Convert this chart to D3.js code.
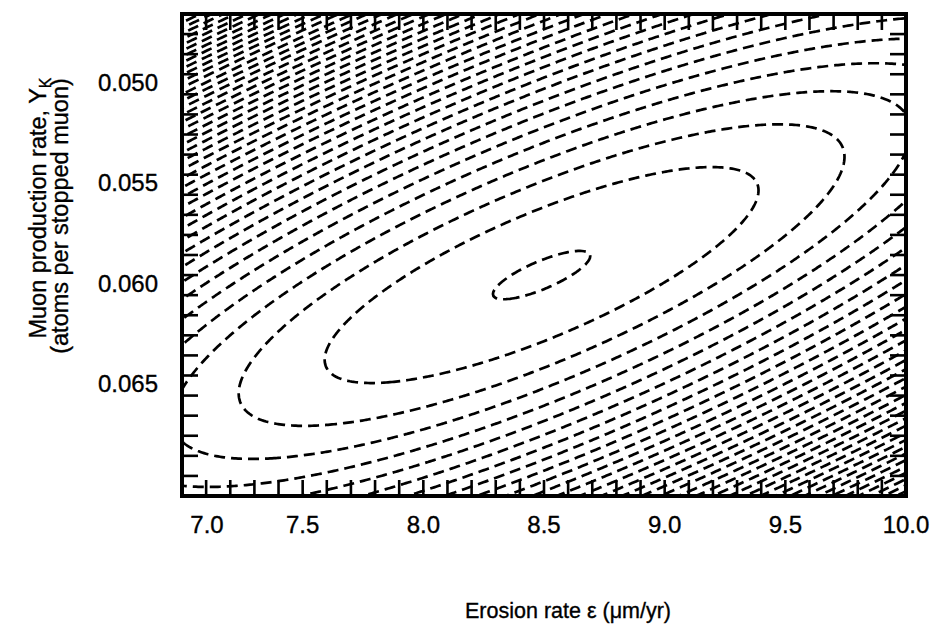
<!DOCTYPE html>
<html>
<head>
<meta charset="utf-8">
<script src="https://cdn.jsdelivr.net/npm/d3@7"></script>
<style>
  body { margin: 0; background: #fff; }
  svg { display: block; }
  text { font-family: "Liberation Sans", Arial, Helvetica, sans-serif; fill: #000; stroke: #000; stroke-width: 0.35px; }
</style>
</head>
<body>
<svg id="chart" width="941" height="632"></svg>
<script>
// Axis ranges and tick labels
const xDomain = [7.0, 10.0];
const yDomain = [0.047, 0.071];
const xLabels = [7.0, 7.5, 8.0, 8.5, 9.0, 9.5, 10.0];
const yLabels = [0.050, 0.055, 0.060, 0.065];

// Misfit surface
const bestErosion = 8.49;
const bestYk = 0.0600;
const sigmaErosion = 0.876;
const sigmaYk = 0.00524;
const rho = -0.784;
const chiMin = 0.947;

// Contour levels (one line per unit of misfit)
const levels = [1, 2, 3, 4, 5, 6, 7, 8, 9, 10, 11, 12, 13, 14, 15, 16, 17, 18, 19, 20,
  21, 22, 23, 24, 25, 26, 27, 28, 29, 30, 31, 32, 33, 34, 35, 36, 37, 38, 39, 40,
  41, 42, 43, 44, 45, 46, 47, 48, 49, 50];

const svg = d3.select("#chart");

const plot = { left: 182, top: 14, right: 906, bottom: 496 };
const x = d3.scaleLinear().domain(xDomain).range([plot.left, plot.right]);
const y = d3.scaleLinear().domain(yDomain).range([plot.top, plot.bottom]);

const misfit = (e, k) => {
  const u = (e - bestErosion) / sigmaErosion;
  const v = (k - bestYk) / sigmaYk;
  return chiMin + (u * u - 2 * rho * u * v + v * v) / (1 - rho * rho);
};

// sample the surface on a grid a bit bigger than the frame, then clip
const cell = 2, pad = 12;
const gx0 = plot.left - pad, gy0 = plot.top - pad;
const nx = Math.ceil((plot.right - plot.left + 2 * pad) / cell) + 1;
const ny = Math.ceil((plot.bottom - plot.top + 2 * pad) / cell) + 1;
const values = new Array(nx * ny);
for (let j = 0; j < ny; j++) {
  for (let i = 0; i < nx; i++) {
    values[i + j * nx] = misfit(x.invert(gx0 + i * cell), y.invert(gy0 + j * cell));
  }
}
const contours = d3.contours().size([nx, ny]).thresholds(levels)(values);
const path = d3.geoPath(d3.geoIdentity().scale(cell).translate([gx0 - cell / 2, gy0 - cell / 2]));

svg.append("defs").append("clipPath").attr("id", "clip")
  .append("rect")
  .attr("x", plot.left).attr("y", plot.top)
  .attr("width", plot.right - plot.left).attr("height", plot.bottom - plot.top);

svg.append("g")
  .attr("clip-path", "url(#clip)")
  .selectAll("path")
  .data(contours)
  .join("path")
  .attr("d", path)
  .attr("fill", "none")
  .attr("stroke", "#000")
  .attr("stroke-width", 2.7)
  .attr("stroke-dasharray", "11 6");

// inward ticks on all four sides
const tickLen = 16;
const ticks = svg.append("g").attr("stroke", "#000").attr("stroke-width", 2.6);
x.ticks(30).forEach(v => {
  ticks.append("line").attr("x1", x(v)).attr("x2", x(v)).attr("y1", plot.bottom).attr("y2", plot.bottom - tickLen);
  ticks.append("line").attr("x1", x(v)).attr("x2", x(v)).attr("y1", plot.top).attr("y2", plot.top + tickLen);
});
y.ticks(24).forEach(v => {
  ticks.append("line").attr("x1", plot.left).attr("x2", plot.left + tickLen).attr("y1", y(v)).attr("y2", y(v));
  ticks.append("line").attr("x1", plot.right).attr("x2", plot.right - tickLen).attr("y1", y(v)).attr("y2", y(v));
});

// frame
svg.append("rect")
  .attr("x", plot.left).attr("y", plot.top)
  .attr("width", plot.right - plot.left).attr("height", plot.bottom - plot.top)
  .attr("fill", "none").attr("stroke", "#000").attr("stroke-width", 4);

// tick labels
svg.append("g").selectAll("text")
  .data(xLabels)
  .join("text")
  .attr("x", (d, i) => x(d) + (i === 0 ? 25 : 0))
  .attr("y", 533)
  .attr("text-anchor", "middle")
  .style("font-size", "24px")
  .text(d => d3.format(".1f")(d));

svg.append("g").selectAll("text")
  .data(yLabels)
  .join("text")
  .attr("x", 158)
  .attr("y", d => y(d) + 16.5)
  .attr("text-anchor", "end")
  .style("font-size", "24px")
  .text(d => d3.format(".3f")(d));

// axis titles
svg.append("text")
  .attr("x", 568).attr("y", 618)
  .attr("text-anchor", "middle")
  .style("font-size", "21.5px")
  .text("Erosion rate ε (μm/yr)");

const yTitle = svg.append("g").attr("transform", "translate(0,208) rotate(-90)");
const line1 = yTitle.append("text")
  .attr("x", 0).attr("y", 46)
  .attr("text-anchor", "middle")
  .style("font-size", "23.5px");
line1.append("tspan").text("Muon production rate, Y");
line1.append("tspan").attr("dy", 5).style("font-size", "16px").text("K");
yTitle.append("text")
  .attr("x", -8).attr("y", 68)
  .attr("text-anchor", "middle")
  .style("font-size", "23.5px")
  .text("(atoms per stopped muon)");
</script>
</body>
</html>
